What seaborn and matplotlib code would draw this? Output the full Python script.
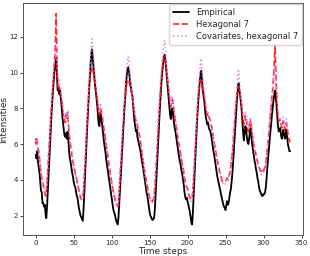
import numpy as np
import pandas as pd
import seaborn as sns
import matplotlib
matplotlib.use("Agg")
import matplotlib.pyplot as plt

# values, one per time step (0..335)
empirical = [
    5.4, 5.2, 5.6, 5.0, 4.7, 4.4, 3.9, 3.4, 3.3, 2.7, 2.7, 2.5, 2.6, 2.1, 1.85,
    2.5, 3.4, 4.3, 5.3, 6.2, 7.0, 7.8, 8.5, 9.1, 9.7, 10.2, 10.6, 10.8,
    9.9, 9.0, 9.1, 8.8, 9.0, 8.6, 8.2, 7.6, 7.2, 6.8, 6.5, 6.4, 6.6, 6.3, 6.7, 6.2, 5.6, 5.2, 5.0, 4.7,
    4.4, 4.2, 3.9, 3.7, 3.6, 3.4, 3.1, 3.0, 2.7, 2.4, 2.2, 2.0, 1.9, 1.8, 1.7,
    2.3, 3.2, 4.2, 5.2, 6.2, 7.1, 8.0, 8.8, 9.6, 10.3, 10.9, 11.3,
    10.9, 10.4, 9.9, 9.4, 9.0, 8.6, 8.2, 7.6, 7.1, 7.0, 7.7, 7.6,
    7.3, 6.9, 6.5, 6.1, 5.8, 5.5, 5.1, 4.8, 4.5, 4.2,
    3.9, 3.6, 3.3, 3.0, 2.7, 2.4, 2.2, 2.1, 1.9, 1.7, 1.6, 1.5,
    1.9, 2.6, 3.4, 4.2, 5.0, 5.8, 6.6, 7.4, 8.1, 8.8, 9.4, 9.9, 10.2, 10.3,
    10.0, 9.6, 9.3, 9.0, 8.8, 8.4, 7.8, 7.3, 7.0, 6.7,
    6.8, 6.4, 6.2, 6.0, 5.8, 5.6, 5.3, 5.0, 4.8, 4.5,
    4.2, 3.9, 3.6, 3.3, 3.1, 2.8, 2.5, 2.2, 2.0, 1.9,
    1.8, 1.75, 1.8, 1.9,
    2.4, 3.2, 4.1, 5.0, 5.9, 6.8, 7.6, 8.4, 9.1, 9.7, 10.2, 10.6, 10.9, 11.0,
    10.6, 10.1, 9.6, 9.1, 8.6, 8.1, 7.6, 7.4, 7.9, 8.0,
    7.6, 7.2, 6.9, 6.7, 6.4, 6.1, 5.8, 5.5, 5.2, 5.0,
    4.8, 4.5, 4.3, 4.0, 3.7, 3.3, 3.0, 2.9, 3.0, 2.8,
    2.6, 2.4, 2.2, 1.9, 1.6, 1.5,
    2.2, 3.1, 4.1, 5.1, 6.0, 6.9, 7.7, 8.4, 9.0, 9.5, 9.9, 10.1,
    9.6, 9.0, 8.7, 8.4, 7.9, 7.5, 7.3, 7.1, 7.2, 6.9,
    6.8, 6.7, 6.5, 6.2, 5.9, 5.6, 5.4, 5.1, 4.8, 4.5,
    4.2, 4.0, 3.8, 3.6, 3.4, 3.2, 3.0, 2.8, 2.6, 2.5,
    2.4, 2.3,
    2.6, 2.8, 2.6, 2.7, 3.0, 3.3, 3.5, 3.9, 4.4, 5.0, 5.7, 6.4, 7.1, 7.8, 8.5, 9.0, 9.4,
    9.1, 8.8, 8.4, 8.0, 7.3, 6.7, 6.2, 6.6, 7.0, 6.9,
    6.4, 6.1, 6.0, 6.3, 6.7, 6.9, 6.4, 6.0, 5.7, 5.4,
    5.1, 4.9, 4.6, 4.4, 4.1, 3.9, 3.6, 3.4, 3.3, 3.2,
    3.1, 3.1,
    3.2, 3.2, 3.3, 3.6, 4.1, 4.7, 5.2, 5.7, 6.2, 6.7, 7.1, 7.6, 8.0, 8.4, 8.7, 9.0,
    8.7, 8.2, 7.6, 7.0, 6.7, 6.8, 6.9, 6.5, 6.3, 6.5,
    6.8, 6.6, 6.3, 6.4, 6.8, 6.4, 6.0, 5.8, 5.6, 5.6,
]

hexagonal = [
    6.0, 6.4, 6.1, 5.8, 5.6, 5.2, 4.7, 4.4, 4.1, 3.9, 3.7, 3.5, 3.3, 3.1, 3.3,
    3.8, 4.5, 5.3, 6.1, 6.9, 7.6, 8.3, 8.9, 9.5, 10.1, 10.7, 11.6, 13.3,
    10.6, 9.1, 9.0, 9.2, 8.9, 8.7, 8.5, 8.2, 7.8, 7.5, 7.3, 7.2, 7.6, 7.4, 7.8, 7.2, 6.6, 6.2, 5.9, 5.6,
    5.3, 5.0, 4.8, 4.6, 4.4, 4.2, 4.0, 3.8, 3.6, 3.4, 3.2, 3.0, 2.9, 2.9, 3.0,
    3.4, 4.1, 4.9, 5.8, 6.6, 7.4, 8.1, 8.8, 9.4, 9.8, 10.1, 10.3,
    10.2, 10.0, 9.7, 9.4, 9.1, 8.8, 8.5, 8.1, 7.8, 7.6, 8.0, 7.9,
    7.7, 7.4, 7.1, 6.8, 6.5, 6.2, 5.9, 5.6, 5.3, 5.0,
    4.7, 4.4, 4.1, 3.9, 3.6, 3.4, 3.2, 3.0, 2.8, 2.7, 2.6, 2.5,
    2.8, 3.4, 4.1, 4.8, 5.5, 6.2, 6.9, 7.6, 8.2, 8.7, 9.1, 9.4, 9.6, 9.6,
    9.5, 9.3, 9.1, 8.9, 8.7, 8.4, 8.1, 7.8, 7.5, 7.3,
    7.3, 7.0, 6.8, 6.6, 6.4, 6.1, 5.8, 5.5, 5.2, 4.9,
    4.6, 4.3, 4.1, 3.9, 3.6, 3.4, 3.2, 3.0, 2.9, 2.8,
    2.8, 2.8, 2.9, 3.1,
    3.6, 4.3, 5.0, 5.8, 6.6, 7.4, 8.1, 8.8, 9.4, 9.9, 10.3, 10.6, 10.8, 10.9,
    10.7, 10.3, 9.9, 9.5, 9.1, 8.7, 8.3, 8.1, 8.4, 8.5,
    8.2, 7.9, 7.6, 7.3, 7.0, 6.7, 6.4, 6.1, 5.9, 5.6,
    5.4, 5.1, 4.9, 4.7, 4.4, 4.1, 3.9, 3.7, 3.6, 3.5,
    3.3, 3.1, 3.0, 2.9, 2.9, 3.0,
    3.4, 4.1, 4.9, 5.7, 6.5, 7.3, 8.0, 8.6, 9.0, 9.4, 9.6, 9.5,
    9.3, 9.0, 8.8, 8.6, 8.3, 8.0, 7.8, 7.6, 7.7, 7.5,
    7.4, 7.3, 7.1, 6.9, 6.6, 6.3, 6.1, 5.8, 5.6, 5.3,
    5.1, 4.9, 4.7, 4.5, 4.3, 4.2, 4.0, 3.9, 3.9, 3.9,
    3.9, 3.9,
    4.0, 4.1, 4.0, 4.1, 4.3, 4.5, 4.8, 5.2, 5.6, 6.1, 6.7, 7.3, 7.9, 8.4, 8.8, 9.1, 9.2,
    9.0, 8.8, 8.5, 8.2, 7.8, 7.4, 7.1, 7.3, 7.6, 7.5,
    7.1, 6.8, 6.7, 6.9, 7.2, 7.3, 6.9, 6.6, 6.3, 6.0,
    5.8, 5.6, 5.4, 5.2, 5.0, 4.8, 4.7, 4.6, 4.5, 4.5,
    4.4, 4.5,
    4.5, 4.6, 4.7, 4.9, 5.3, 5.7, 6.1, 6.6, 7.1, 7.6, 8.1, 8.6, 9.0, 9.6, 10.4, 11.6,
    10.2, 9.0, 8.2, 7.6, 7.3, 7.3, 7.4, 7.1, 6.9, 7.1,
    7.3, 7.1, 6.8, 6.9, 7.2, 6.9, 6.6, 6.4, 6.2, 6.1,
]

covariates = [
    5.9, 6.2, 6.0, 5.7, 5.5, 5.3, 4.8, 4.5, 4.2, 3.9, 3.7, 3.5, 3.4, 3.2, 3.4,
    3.9, 4.6, 5.4, 6.2, 7.0, 7.8, 8.5, 9.2, 9.8, 10.3, 10.8, 11.2, 11.4,
    10.6, 9.9, 9.6, 9.7, 9.4, 9.1, 8.8, 8.4, 8.0, 7.7, 7.5, 7.4, 7.7, 7.5, 7.9, 7.3, 6.8, 6.3, 6.0, 5.7,
    5.4, 5.1, 4.8, 4.6, 4.4, 4.2, 4.0, 3.7, 3.5, 3.3, 3.1, 3.0, 2.9, 2.9, 3.1,
    3.5, 4.3, 5.2, 6.1, 7.0, 7.9, 8.7, 9.5, 10.2, 10.8, 11.4, 11.9,
    11.5, 11.0, 10.5, 10.0, 9.6, 9.2, 8.8, 8.4, 8.0, 7.8, 8.3, 8.1,
    7.8, 7.5, 7.2, 6.9, 6.6, 6.3, 6.0, 5.7, 5.4, 5.1,
    4.8, 4.5, 4.2, 3.9, 3.6, 3.4, 3.1, 2.9, 2.8, 2.6, 2.5, 2.5,
    2.8, 3.5, 4.3, 5.1, 5.9, 6.7, 7.5, 8.2, 8.9, 9.5, 10.0, 10.4, 10.7, 10.9,
    10.5, 10.0, 9.6, 9.2, 8.9, 8.6, 8.2, 7.9, 7.6, 7.4,
    7.4, 7.1, 6.9, 6.7, 6.4, 6.1, 5.8, 5.5, 5.2, 4.9,
    4.6, 4.3, 4.0, 3.8, 3.5, 3.3, 3.1, 2.9, 2.8, 2.7,
    2.7, 2.8, 2.9, 3.1,
    3.6, 4.4, 5.2, 6.1, 7.0, 7.8, 8.6, 9.3, 9.9, 10.5, 11.0, 11.4, 11.7, 11.8,
    11.3, 10.7, 10.1, 9.6, 9.2, 8.8, 8.4, 8.2, 8.6, 8.7,
    8.3, 8.0, 7.7, 7.4, 7.1, 6.8, 6.5, 6.2, 5.9, 5.7,
    5.4, 5.1, 4.9, 4.6, 4.3, 4.0, 3.8, 3.6, 3.5, 3.4,
    3.2, 3.0, 2.9, 2.8, 2.8, 3.0,
    3.4, 4.2, 5.0, 5.9, 6.8, 7.6, 8.4, 9.1, 9.7, 10.2, 10.6, 10.8,
    10.2, 9.7, 9.3, 9.0, 8.6, 8.2, 7.9, 7.7, 7.8, 7.6,
    7.5, 7.3, 7.1, 6.9, 6.6, 6.3, 6.0, 5.7, 5.5, 5.2,
    5.0, 4.8, 4.6, 4.4, 4.2, 4.0, 3.9, 3.8, 3.8, 3.7,
    3.7, 3.8,
    3.9, 4.0, 3.9, 4.0, 4.2, 4.5, 4.8, 5.2, 5.7, 6.3, 6.9, 7.5, 8.1, 8.7, 9.3, 9.8, 10.1,
    9.6, 9.2, 8.8, 8.4, 8.0, 7.6, 7.3, 7.5, 7.8, 7.7,
    7.3, 7.0, 6.9, 7.1, 7.4, 7.5, 7.1, 6.7, 6.4, 6.1,
    5.8, 5.6, 5.4, 5.2, 5.0, 4.8, 4.6, 4.5, 4.4, 4.3,
    4.3, 4.3,
    4.4, 4.5, 4.6, 4.9, 5.3, 5.8, 6.3, 6.8, 7.3, 7.8, 8.3, 8.8, 9.3, 9.7, 10.0, 10.3,
    9.8, 9.1, 8.5, 7.9, 7.5, 7.4, 7.5, 7.2, 7.0, 7.2,
    7.5, 7.3, 7.1, 7.2, 7.4, 7.1, 6.8, 6.6, 6.4, 6.3,
]

steps = np.arange(len(empirical))
df = pd.DataFrame({
    "step": steps,
    "Empirical": empirical,
    "Hexagonal 7": hexagonal,
    "Covariates, hexagonal 7": covariates,
})

sns.set_style("ticks")
plt.rcParams["font.family"] = ["DejaVu Sans"]

fig, ax = plt.subplots(figsize=(3.1, 2.56), dpi=100)
fig.subplots_adjust(left=0.074, right=0.977, top=0.988, bottom=0.082)

sns.lineplot(data=df, x="step", y="Empirical", ax=ax, color="black",
             lw=1.3, label="Empirical")
sns.lineplot(data=df, x="step", y="Hexagonal 7", ax=ax, color="red",
             lw=1.2, linestyle="--", alpha=0.85, label="Hexagonal 7")
sns.lineplot(data=df, x="step", y="Covariates, hexagonal 7", ax=ax,
             color="violet", lw=1.1, linestyle=":", label="Covariates, hexagonal 7")

ax.set_xticks([0, 50, 100, 150, 200, 250, 300, 350])
ax.set_yticks([2, 4, 6, 8, 10, 12])
ax.tick_params(labelsize=5, length=2.5, width=0.6, pad=1.2)
ax.set_xlabel("Time steps", fontsize=6.5, labelpad=0.5)
ax.set_ylabel("Intensities", fontsize=6.5, labelpad=0.3)
for sp in ax.spines.values():
    sp.set_linewidth(0.7)
    sp.set_color("#555555")

ax.legend(loc="upper right", fontsize=6, borderaxespad=0.15,
          handlelength=2.0, labelspacing=0.4, framealpha=0.8)

fig.savefig("out.png", dpi=100)
